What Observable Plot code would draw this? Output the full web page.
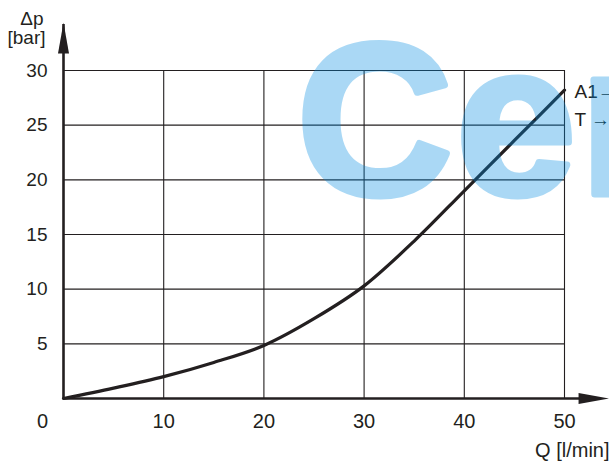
<!DOCTYPE html>
<html>
<head>
<meta charset="utf-8">
<script src="https://cdn.jsdelivr.net/npm/d3@7"></script>
<script src="https://cdn.jsdelivr.net/npm/@observablehq/plot@0.6"></script>
<style>
  html, body { margin: 0; padding: 0; background: #fff; overflow: hidden; }
  #chart svg { display: block; }
</style>
</head>
<body>
<div id="chart"></div>
<script>
// Flow Q [l/min] vs pressure drop Δp [bar]
const flowQ = [0, 5, 10, 15, 20, 25, 30, 35, 40, 45, 50];
const deltaP = [0, 0.95, 2.0, 3.3, 4.85, 7.3, 10.3, 14.4, 19.0, 23.6, 28.2];

const xTicks = [10, 20, 30, 40, 50];
const yTicks = [5, 10, 15, 20, 25, 30];

const portLabels = ["A1→", "T →"];
const portLabelY = [28.05, 25.5];

const xLabel = "Q [l/min]";
const yLabelLines = ["Δp", "[bar]"];
const originLabel = "0";
const watermark = "Cer";

const curve = flowQ.map((q, i) => ({q, p: deltaP[i]}));
const ports = portLabels.map((t, i) => ({t, y: portLabelY[i]}));

const ink = "#231f20";
const font = "'Liberation Sans', Arial, Helvetica, sans-serif";

// arrowhead symbols (tip at the anchor point)
const arrowUp = {draw(ctx) { ctx.moveTo(0, 0); ctx.lineTo(5.5, 31); ctx.lineTo(-5.5, 31); ctx.closePath(); }};
const arrowRight = {draw(ctx) { ctx.moveTo(0, 0); ctx.lineTo(-31, 5.5); ctx.lineTo(-31, -5.5); ctx.closePath(); }};
const xAxisEnd = 54.5;
const yAxisEnd = 34.4;

const chart = Plot.plot({
  width: 609,
  height: 467,
  marginLeft: 63,
  marginRight: 45,
  marginTop: 70,
  marginBottom: 69,
  style: {fontFamily: font, fontSize: "19px", color: ink, background: "#fff", overflow: "hidden"},
  x: {domain: [0, 50]},
  y: {domain: [0, 30]},
  marks: [
    Plot.gridX(xTicks, {stroke: ink, strokeOpacity: 1, strokeWidth: 1.1}),
    Plot.gridY(yTicks, {stroke: ink, strokeOpacity: 1, strokeWidth: 1.1}),
    Plot.axisX(xTicks, {tickSize: 0, tickPadding: 15, label: null, fill: ink, fontSize: 20}),
    Plot.axisY(yTicks, {tickSize: 0, tickPadding: 16, label: null, fill: ink, fontSize: 19}),
    // axis lines with arrows
    Plot.ruleY([0], {x1: 0, x2: xAxisEnd - 2, stroke: ink, strokeWidth: 2.6}),
    Plot.ruleX([0], {y1: 0, y2: yAxisEnd - 0.2, stroke: ink, strokeWidth: 2.6}),
    Plot.dot([0], {x: 0, y: yAxisEnd, symbol: arrowUp, fill: ink, stroke: null}),
    Plot.dot([0], {x: xAxisEnd, y: 0, symbol: arrowRight, fill: ink, stroke: null}),
    // curve
    Plot.line(curve, {x: "q", y: "p", curve: "monotone-x", stroke: ink, strokeWidth: 3.2}),
    // labels
    Plot.text([originLabel], {x: 0, y: 0, text: d => d, dx: -21, dy: 23.5, fill: ink, fontSize: 20}),
    Plot.text([yLabelLines[0]], {x: 0, y: 30, text: d => d, dx: -20, dy: -52, textAnchor: "end", fill: ink, fontSize: 19}),
    Plot.text([yLabelLines[1]], {x: 0, y: 30, text: d => d, dx: -18, dy: -33, textAnchor: "end", fill: ink, fontSize: 19}),
    Plot.text([xLabel], {x: 50, y: 0, text: d => d, dx: 45, dy: 52.5, textAnchor: "end", fill: ink, fontSize: 20}),
    Plot.text(ports, {x: 50, y: "y", text: "t", dx: 10, textAnchor: "start", fill: ink, fontSize: 19}),
    // watermark
    Plot.text([watermark], {x: 23.3, y: 18.7, text: d => d, textAnchor: "start", lineAnchor: "bottom",
      fontSize: 215, fontWeight: "bold", fill: "rgb(0,140,225)", stroke: "rgb(0,140,225)",
      strokeWidth: 7, strokeLinejoin: "round", opacity: 0.33})
  ]
});
d3.select(chart).selectAll("text")
  .filter(function() { return this.textContent === watermark; })
  .style("letter-spacing", "4px");
document.getElementById("chart").append(chart);
</script>
</body>
</html>
